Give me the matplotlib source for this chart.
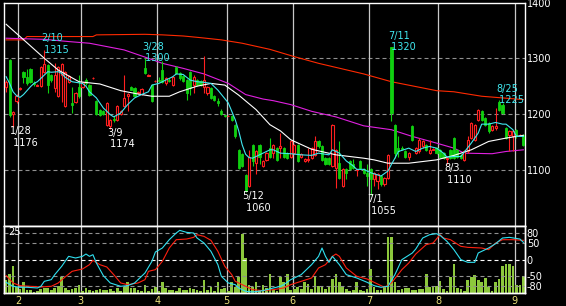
import numpy as np
import matplotlib
matplotlib.use("Agg")
import matplotlib.pyplot as plt

plt.rcParams["axes.unicode_minus"] = False

# daily prices (index 0 = 1/26 ... index 149 = last day in Sep)
opens = [1248, 1297, 1200, 1223, 1245, 1276, 1266, 1280, 1256, 1251,
         1251, 1276, 1288, 1270, 1246, 1232, 1270, 1214, 1258, 1220,
         1221, 1249, 1249, 1262, 1252, 1264, 1224, 1208, 1205, 1181,
         1178, 1192, 1190, 1200, 1215, 1232, 1248, 1246, 1238, 1236,
         1282, 1269, 1252, 1259, 1262, 1279, 1255, 1262, 1252, 1285,
         1273, 1268, 1261, 1276, 1252, 1261, 1260, 1249, 1237, 1246,
         1232, 1224, 1206, 1198, 1196, 1197, 1181, 1136, 1129, 1090,
         1071, 1145, 1113, 1145, 1107, 1118, 1139, 1130, 1139, 1140,
         1139, 1130, 1124, 1130, 1145, 1123, 1116, 1117, 1121, 1127,
         1151, 1143, 1121, 1121, 1107, 1104, 1112, 1071, 1101, 1116,
         1110, 1100, 1116, 1101, 1095, 1101, 1083, 1080, 1089, 1074,
         1086, 1320, 1181, 1139, 1140, 1133, 1124, 1178, 1130, 1133,
         1142, 1145, 1130, 1135, 1139, 1136, 1130, 1120, 1136, 1157,
         1136, 1127, 1118, 1133, 1157, 1154, 1190, 1205, 1193, 1184,
         1172, 1175, 1222, 1217, 1175, 1163, 1160, 1172, 1162, 1163]
highs = [1262, 1299, 1206, 1236, 1248, 1278, 1280, 1282, 1260, 1254,
         1286, 1315, 1290, 1272, 1291, 1287, 1291, 1278, 1270, 1249,
         1240, 1270, 1258, 1265, 1254, 1266, 1226, 1210, 1207, 1222,
         1192, 1196, 1217, 1208, 1270, 1238, 1250, 1248, 1242, 1247,
         1300, 1271, 1254, 1261, 1266, 1295, 1266, 1265, 1269, 1287,
         1275, 1270, 1263, 1278, 1270, 1263, 1262, 1304, 1251, 1248,
         1234, 1229, 1210, 1199, 1198, 1199, 1183, 1138, 1131, 1092,
         1136, 1147, 1135, 1147, 1118, 1132, 1157, 1147, 1141, 1166,
         1141, 1132, 1153, 1147, 1147, 1131, 1122, 1139, 1141, 1160,
         1153, 1145, 1123, 1123, 1183, 1138, 1151, 1103, 1103, 1118,
         1119, 1102, 1118, 1103, 1110, 1103, 1097, 1094, 1091, 1088,
         1129, 1320, 1183, 1160, 1143, 1135, 1132, 1180, 1141, 1157,
         1153, 1147, 1154, 1140, 1141, 1138, 1132, 1123, 1138, 1159,
         1138, 1129, 1135, 1160, 1186, 1183, 1210, 1207, 1195, 1186,
         1180, 1211, 1225, 1219, 1177, 1172, 1171, 1174, 1164, 1165]
lows = [1240, 1195, 1176, 1219, 1244, 1255, 1252, 1256, 1250, 1250,
        1248, 1274, 1237, 1258, 1240, 1230, 1222, 1212, 1255, 1202,
        1219, 1229, 1247, 1253, 1233, 1263, 1199, 1197, 1198, 1178,
        1174, 1186, 1188, 1198, 1213, 1205, 1243, 1230, 1236, 1234,
        1272, 1268, 1221, 1258, 1258, 1256, 1253, 1258, 1250, 1272,
        1262, 1258, 1226, 1234, 1237, 1250, 1250, 1237, 1235, 1227,
        1224, 1215, 1199, 1195, 1196, 1187, 1158, 1102, 1105, 1060,
        1069, 1107, 1092, 1110, 1105, 1116, 1122, 1121, 1116, 1121,
        1122, 1119, 1122, 1128, 1114, 1121, 1114, 1115, 1119, 1125,
        1140, 1116, 1108, 1108, 1105, 1068, 1084, 1069, 1083, 1099,
        1102, 1089, 1102, 1093, 1071, 1055, 1071, 1066, 1072, 1072,
        1084, 1187, 1121, 1124, 1136, 1122, 1118, 1152, 1128, 1131,
        1140, 1134, 1128, 1135, 1128, 1122, 1119, 1110, 1119, 1119,
        1122, 1119, 1116, 1131, 1155, 1152, 1188, 1188, 1179, 1167,
        1170, 1172, 1206, 1200, 1155, 1133, 1133, 1158, 1161, 1143]
closes = [1258, 1199, 1203, 1233, 1247, 1266, 1255, 1258, 1254, 1253,
          1284, 1290, 1252, 1261, 1270, 1285, 1290, 1276, 1268, 1217,
          1237, 1232, 1257, 1255, 1235, 1265, 1200, 1199, 1201, 1220,
          1190, 1190, 1215, 1206, 1229, 1236, 1244, 1232, 1240, 1245,
          1273, 1270, 1223, 1260, 1260, 1258, 1264, 1260, 1267, 1273,
          1264, 1260, 1237, 1246, 1267, 1252, 1252, 1261, 1249, 1229,
          1226, 1220, 1200, 1196, 1197, 1189, 1160, 1104, 1107, 1062,
          1124, 1116, 1133, 1124, 1116, 1130, 1124, 1145, 1118, 1142,
          1124, 1121, 1151, 1145, 1116, 1129, 1120, 1119, 1139, 1151,
          1142, 1118, 1110, 1110, 1181, 1136, 1086, 1101, 1095, 1101,
          1104, 1101, 1104, 1095, 1089, 1083, 1095, 1092, 1074, 1086,
          1127, 1202, 1130, 1133, 1138, 1124, 1130, 1154, 1139, 1154,
          1151, 1136, 1136, 1137, 1130, 1124, 1121, 1122, 1121, 1121,
          1124, 1121, 1133, 1154, 1184, 1181, 1208, 1190, 1181, 1169,
          1178, 1178, 1208, 1202, 1157, 1169, 1169, 1160, 1163, 1145]
volume = [5.4, 7.8, 11.0, 2.7, 1.6, 4.6, 1.4, 1.4, 0.7, 0.8,
          1.6, 2.0, 2.3, 1.4, 2.0, 3.0, 6.5, 2.0, 1.4, 1.6,
          2.0, 3.4, 0.8, 2.3, 1.4, 0.8, 1.4, 1.6, 1.4, 1.4,
          1.6, 0.8, 2.0, 1.0, 2.7, 4.6, 2.3, 2.3, 1.4, 1.0,
          3.4, 1.0, 1.6, 2.7, 1.0, 4.6, 2.0, 1.4, 1.4, 0.8,
          2.0, 1.4, 1.4, 2.0, 1.6, 1.4, 0.8, 5.4, 1.4, 2.7,
          1.0, 4.7, 1.6, 2.0, 1.0, 4.7, 2.7, 6.5, 24.0, 14.2,
          3.4, 2.7, 4.5, 1.4, 3.4, 2.0, 7.8, 1.4, 1.0, 6.5,
          4.6, 7.8, 1.4, 1.6, 2.7, 1.6, 4.7, 3.8, 1.6, 6.5,
          3.0, 2.4, 1.6, 2.4, 5.7, 7.8, 4.7, 2.7, 1.6, 1.0,
          1.4, 4.7, 1.4, 1.0, 1.6, 9.7, 2.4, 1.4, 1.4, 2.7,
          23.0, 23.0, 4.7, 1.4, 1.6, 2.0, 2.0, 1.4, 1.4, 1.6,
          1.6, 7.8, 2.7, 2.4, 3.0, 5.1, 1.6, 1.0, 6.5, 11.9,
          2.0, 1.6, 1.0, 5.4, 6.5, 7.4, 5.4, 4.7, 6.1, 2.7,
          1.0, 4.7, 5.7, 11.1, 11.9, 11.9, 11.1, 3.4, 3.4, 7.0]

# moving averages (day index, price)
ma_short_x = [0, 1, 2, 3, 4, 5, 7, 8, 9, 11, 12, 13, 15, 16, 17, 19, 20, 22, 23, 24,
              26, 28, 30, 31, 33, 35, 37, 39, 41, 42, 44, 46, 48, 49, 51, 53, 55, 57, 59, 61,
              64, 65, 66, 67, 68, 69, 70, 71, 72, 74, 76, 77, 79, 82, 85, 88, 90, 93, 94, 96,
              98, 100, 101, 103, 105, 108, 110, 111, 112, 113, 116, 118, 120, 122, 124, 126, 127, 129, 131, 134,
              136, 137, 139, 141, 143, 144, 146, 147, 149]
ma_short_y = [1267, 1255, 1240, 1233, 1230, 1235, 1249, 1255, 1258, 1270, 1276, 1275, 1276, 1273, 1266, 1258, 1257, 1255, 1250, 1240,
              1229, 1211, 1199, 1195, 1202, 1217, 1229, 1235, 1240, 1252, 1255, 1261, 1267, 1272, 1271, 1261, 1258, 1257, 1255, 1243,
              1220, 1205, 1190, 1170, 1145, 1128, 1122, 1121, 1124, 1130, 1136, 1136, 1130, 1129, 1127, 1126, 1130, 1127, 1136, 1130,
              1116, 1107, 1101, 1101, 1095, 1089, 1098, 1110, 1121, 1133, 1139, 1133, 1139, 1142, 1139, 1130, 1123, 1124, 1124, 1148,
              1166, 1182, 1182, 1185, 1182, 1182, 1172, 1160, 1160]
ma_mid_x = [0, 4, 11, 15, 21, 27, 33, 38, 42, 47, 50, 55, 59, 63, 67, 72, 76, 79, 82, 88,
            95, 103, 106, 110, 116, 124, 129, 134, 139, 144, 149]
ma_mid_y = [1361, 1339, 1300, 1279, 1258, 1254, 1242, 1236, 1232, 1232, 1240, 1250, 1255, 1252, 1234, 1208, 1181, 1170, 1154, 1137,
            1127, 1121, 1118, 1112, 1112, 1118, 1126, 1136, 1151, 1157, 1162]
ma_long_x = [0, 11, 18, 24, 34, 41, 45, 51, 57, 64, 69, 74, 77, 82, 88, 95, 103, 111, 117, 124,
             129, 132, 140, 144, 149]
ma_long_y = [1336, 1334, 1330, 1327, 1315, 1300, 1291, 1282, 1272, 1255, 1235, 1227, 1224, 1217, 1205, 1195, 1179, 1172, 1160, 1148,
             1139, 1130, 1129, 1133, 1136]
ma_year_x = [0, 5, 6, 25, 26, 40, 45, 51, 56, 62, 68, 76, 83, 90, 103, 111, 124, 129, 137, 149]
ma_year_y = [1333, 1333, 1339, 1339, 1342, 1343, 1342, 1340, 1337, 1333, 1327, 1316, 1303, 1291, 1272, 1258, 1242, 1240, 1232, 1226]

# oscillators (lower panel)
osc_fast_x = [0, 2, 4, 6, 9, 10, 11, 13, 14, 16, 18, 20, 22, 23, 24, 25, 26, 28, 30, 33,
              35, 37, 38, 40, 42, 43, 45, 47, 49, 50, 52, 54, 55, 57, 59, 61, 62, 64, 66, 67,
              69, 71, 74, 77, 79, 80, 82, 85, 88, 90, 91, 92, 93, 94, 96, 98, 101, 104, 106, 108,
              110, 112, 114, 117, 118, 120, 122, 124, 125, 127, 129, 131, 133, 135, 136, 139, 141, 143, 145, 148, 149]
osc_fast_y = [-68, -80, -83, -83, -85, -80, -65, -60, -45, -20, 10, 5, 10, 17, 10, 15, -10, -48, -70, -80,
              -78, -70, -60, -40, -5, 23, 35, 60, 80, 88, 82, 80, 65, 50, 25, -15, -50, -70, -75, -85,
              -95, -97, -93, -85, -80, -75, -60, -45, -15, 10, 35, 10, -8, 10, -15, -45, -55, -68, -78, -83,
              -80, -45, 0, 20, 32, 65, 75, 78, 73, 55, 30, 0, -8, -8, 20, 35, 48, 65, 67, 62, 52]
osc_slow_x = [0, 2, 4, 7, 10, 13, 15, 17, 19, 22, 24, 25, 27, 29, 31, 33, 35, 38, 40, 41,
              43, 45, 47, 49, 52, 54, 55, 57, 59, 61, 63, 65, 66, 69, 71, 74, 77, 80, 82, 85,
              88, 90, 92, 94, 95, 96, 98, 101, 104, 107, 109, 111, 114, 116, 118, 121, 123, 125, 126, 128,
              131, 133, 137, 139, 141, 143, 146, 149]
osc_slow_y = [-48, -70, -78, -80, -82, -80, -70, -52, -35, -28, -15, -2, -15, -22, -45, -70, -75, -70, -60, -35,
              -30, -5, 35, 60, 62, 67, 75, 70, 58, 25, -20, -45, -65, -80, -90, -93, -90, -85, -75, -65,
              -55, -25, -15, 10, 17, 10, -25, -50, -58, -73, -83, -70, -30, -10, 17, 45, 50, 75, 65, 60,
              40, 37, 35, 30, 50, 60, 60, 58]

month_start = [4, 22, 44, 64, 83, 105, 125, 147]
month_names = ["2", "3", "4", "5", "6", "7", "8", "9"]

ann_day = [2, 11, 30, 40, 69, 105, 111, 127, 142]
ann_date = ["1/28", "2/10", "3/9", "3/28", "5/12", "7/1", "7/11", "8/3", "8/25"]
ann_kind = ["low", "high", "low", "high", "low", "low", "high", "low", "high"]

RED = "#ff2020"
GREEN = "#10d010"
CYAN = "#40e8f0"
GRID = "#909090"
VLINE = "#c8c8c8"

o = np.array(opens, float)
h = np.array(highs, float)
l = np.array(lows, float)
c = np.array(closes, float)
days = np.arange(len(o))
up = c >= o

W, H = 566.0, 306.0
fig = plt.figure(figsize=(5.66, 3.06), dpi=100, facecolor="black")
ax = fig.add_axes([4.3 / W, 1 - 225.7 / H, 520.4 / W, 223.2 / H])
axv = fig.add_axes([4.3 / W, 1 - 293.3 / H, 520.4 / W, 67.6 / H])

xmin, xmax = -0.53, 149.39

# ---- price panel
ax.set_facecolor("black")
for y in [1100, 1200, 1300]:
    ax.axhline(y, color=GRID, lw=0.8, ls=(0, (3.6, 2.7)), zorder=1)
for m in month_start:
    ax.axvline(m - 0.5, color=VLINE, lw=0.9, zorder=1)

ax.plot(ma_year_x, ma_year_y, color="#ff2a00", lw=0.8, zorder=2)
ax.plot(ma_long_x, ma_long_y, color="#e020e0", lw=0.8, zorder=2)

ax.vlines(days[up], l[up], h[up], color=RED, lw=0.8, zorder=3)
ax.vlines(days[~up], l[~up], h[~up], color=GREEN, lw=0.8, zorder=3)
body_lo = np.minimum(o, c)
body_h = np.maximum(np.abs(c - o), 1.2)
ax.bar(days[up], body_h[up], bottom=body_lo[up], width=0.62,
       facecolor="black", edgecolor=RED, linewidth=0.8, zorder=4)
ax.bar(days[~up], body_h[~up], bottom=body_lo[~up], width=0.62,
       facecolor=GREEN, edgecolor=GREEN, linewidth=0.6, zorder=4)

ax.plot(ma_mid_x, ma_mid_y, color="white", lw=0.8, zorder=5)
ax.plot(ma_short_x, ma_short_y, color=CYAN, lw=0.8, zorder=5)

for d, txt, kind in zip(ann_day, ann_date, ann_kind):
    if kind == "high":
        ax.annotate(f"{txt}\n {highs[d]}", xy=(d, highs[d]), xytext=(-3, -5),
                    textcoords="offset pixels", ha="left", va="bottom",
                    color=CYAN, fontsize=7, zorder=6)
    else:
        ax.annotate(f"{txt}\n {lows[d]}", xy=(d, lows[d]), xytext=(-3, 1),
                    textcoords="offset pixels", ha="left", va="top",
                    color="white", fontsize=7, zorder=6)

ax.set_xlim(xmin, xmax)
ax.set_ylim(1000, 1400)
ax.set_xticks([])
ax.yaxis.tick_right()
ax.set_yticks([1100, 1200, 1300, 1400])
ax.tick_params(axis="y", length=0, pad=1.5, labelsize=7, labelcolor="white")
for s in ax.spines.values():
    s.set_color("white")
    s.set_linewidth(1.0)

# ---- volume / oscillator panel
axv.set_facecolor("black")
for m in month_start:
    axv.axvline(m - 0.5, color=VLINE, lw=0.9, zorder=1)
axv.bar(days, volume, width=0.78, color="#8cc83c", zorder=2)
axv.set_xlim(xmin, xmax)
axv.set_ylim(0, 27.4)
axv.set_yticks([])
axv.set_xticks([m - 0.5 for m in month_start])
axv.set_xticklabels(month_names)
axv.tick_params(axis="x", length=0, pad=2, labelsize=7, labelcolor="#ece27a")

axo = axv.twinx()
axo.set_ylim(-101, 102)
for y in [80, 50, -50, -80]:
    axo.axhline(y, color=GRID, lw=0.8, ls=(0, (3.6, 2.7)), zorder=1)
axo.axhline(0, color="white", lw=0.8, ls=(0, (3.6, 2.7)), zorder=1)
axo.plot(osc_slow_x, osc_slow_y, color="#ff2010", lw=0.8, zorder=3)
axo.plot(osc_fast_x, osc_fast_y, color="#30e0f0", lw=0.8, zorder=3)
axo.set_yticks([80, 50, 0, -50, -80])
axo.tick_params(axis="y", length=0, pad=1.5, labelsize=7, labelcolor="white")
for a in (axv, axo):
    for s in a.spines.values():
        s.set_color("white")
        s.set_linewidth(1.0)

fig.text(8 / W, 1 - 232 / H, "25", color="white", fontsize=7, va="center", ha="left")

fig.savefig("out.png", dpi=100, facecolor="black")
